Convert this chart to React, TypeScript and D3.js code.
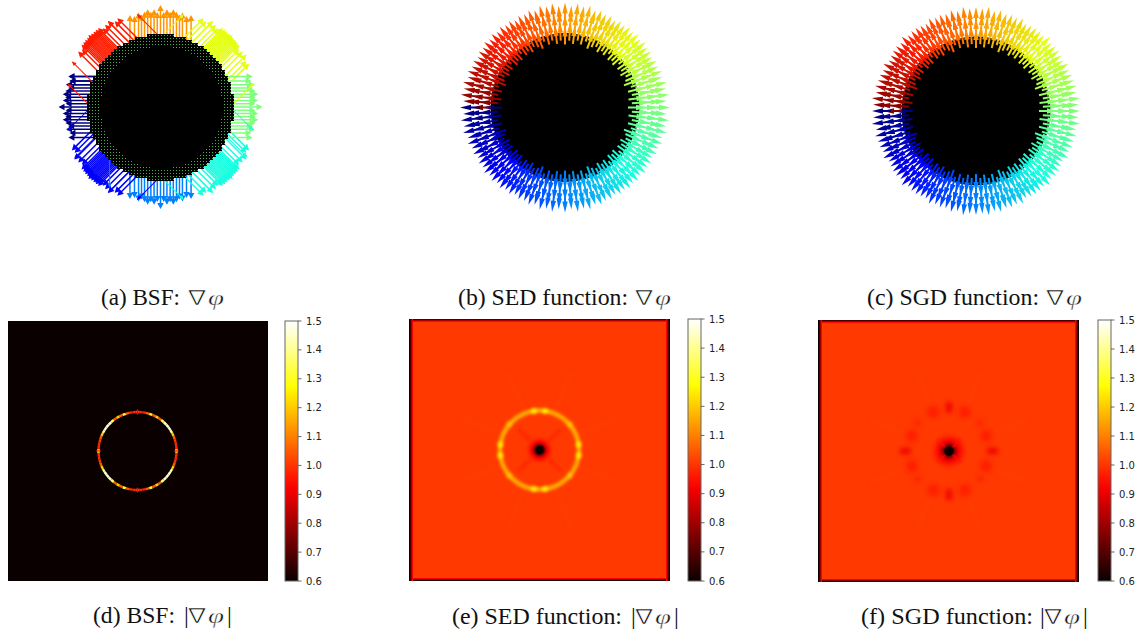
import React from "react";
import * as d3 from "d3";

// ---------- data ----------
const colorbarTicks = [0.6, 0.7, 0.8, 0.9, 1.0, 1.1, 1.2, 1.3, 1.4, 1.5];
const valueDomain = [0.6, 1.5];
const jetStops = ["#00007f", "#0000ff", "#007fff", "#17ffe0", "#7dff7a", "#e4ff12", "#ff9400", "#ff1d00", "#7f0000"];
const hotPositions = [0, 0.365, 0.746, 1];
const hotStops = ["#0b0000", "#ff0000", "#ffff00", "#ffffff"];

const captionsTop = ["(a) BSF:", "(b) SED function:", "(c) SGD function:"];
const captionsBottom = ["(d) BSF:", "(e) SED function:", "(f) SGD function:"];

// outward rays, first quadrant (degrees); mirrored to the other three
const sedRayAngles = [0, 3.6, 7.1, 10.6, 14, 17.4, 20.6, 23.7, 27, 30, 33, 36, 39, 42, 45, 48, 51, 54, 57, 60, 63, 66.3, 69.4, 72.6, 76, 79.4, 82.9, 86.4, 90];
const sedRayReach = [0, -3, 0, -2, 0, -3, -1, -3, -2, -4, -2, -3, -1, -3, -1, -3, -1, -3, -2, -4, -2, -3, -1, -3, 0, -2, 0, -3, 0];
const sgdRayReach = [-1, -2, 0, -3, -1, -2, -2, -3, -1, -4, -3, -2, -2, -3, 0, -3, -2, -2, -3, -4, -1, -3, -2, -3, -1, -3, 0, -2, -1];
const rayStagger = [0, 4, 1, 5, 2, 6, 0, 3, 5, 1, 4, 2, 6, 1, 3, 1, 6, 2, 4, 1, 5, 3, 0, 6, 2, 5, 1, 4, 0];
const arrowBaseRadii = [63, 74, 85];

const bsfRayAngles = [0, 2.6, 5.2, 7.8, 10.4, 13, 15.6, 18.2, 21.5, 25.5, 29.5, 33, 35.5, 36.7, 37.9, 39.1, 40.3, 41.5, 42.7, 43.9, 45, 46.1, 47.3, 48.5, 49.7, 50.9, 52.1, 53.3, 54.5, 57, 60.5, 64.5, 68.5, 72, 74.5, 77, 79.6, 82.2, 84.8, 87.4, 90];
const bsfReach = [0, -2, 1, -1, 2, 0, -2, 1, -1, 2, 0, -2, 1, -1, 1, 0, 1, -1, 1, 0, 2, 0, 1, -1, 1, 0, 1, -1, 1, -2, 0, 2, -1, 1, -2, 0, 2, -1, 1, -2, 0];
const bsfOutlierPositions = [178, 92, 88, 2, 182, 268, 358, 272, 160, 205, 225, 336, 116, 64, 296, 244];
const bsfOutlierDirections = [135, 135, 45, 45, -135, -135, -45, -45, 135, -135, -90, -45, 135, 45, -45, -135];

// BSF ring, value per 5-degree bin from the top going clockwise to the right side
const bsfRingValues = [1.0, 0.98, 0.98, 1.05, 1.3, 1.05, 1.2, 1.05, 1.35, 1.45, 1.47, 1.47, 1.42, 1.2, 1.05, 1.0, 0.98, 0.98, 1.2];
const bsfRingRadius = [37.8, 40.2];
const axisAngles = [0, 90, 180, 270];

const edgeSideValues = [0.6, 0.68, 0.8, 0.92];
const edgeTopValues = [0.68, 0.82, 0.94];
const edgeBottomValues = [0.62, 0.76, 0.92];
const sedHaloRadii = [0, 3.5, 5, 7, 10, 15];
const sedHaloValues = [0.6, 0.6, 0.74, 0.88, 0.96, 1.0];
const sgdHaloRadii = [0, 4, 6, 9, 13, 20];
const sgdHaloValues = [0.6, 0.6, 0.78, 0.9, 0.96, 1.0];

const sedBeadAngles = [8, -8, 82, 98, 172, 188, 262, 278, 40, 140, 220, 320];
const sedBeadValues = [1.25, 1.25, 1.25, 1.25, 1.25, 1.25, 1.25, 1.25, 1.19, 1.19, 1.19, 1.19];
const sedStreakAngles = [45, 135, 225, 315];
const faintStreakAngles = [68, 112, 248, 292, 22, 158, 202, 338];
const sgdBlobAngles = [22, 68, 112, 158, 202, 248, 292, 338, 42, 138, 222, 318];
const sgdBlobRadii = [40, 42, 42, 40, 40, 42, 42, 40, 42, 42, 42, 42];
const sgdBlobSizes = [6, 6, 6, 6, 6, 6, 6, 6, 4, 4, 4, 4];
const sgdBlobValues = [0.965, 0.965, 0.965, 0.965, 0.965, 0.965, 0.965, 0.965, 0.98, 0.98, 0.98, 0.98];

// ---------- scales ----------
const hot = d3.scaleLinear<string>().domain(hotPositions).range(hotStops).interpolate(d3.interpolateRgb).clamp(true);
const norm = d3.scaleLinear().domain(valueDomain).range([0, 1]).clamp(true);
const heat = (v: number) => hot(norm(v));
const jet = d3.scaleLinear<string>().domain(d3.range(jetStops.length).map((i) => i / (jetStops.length - 1))).range(jetStops);
const dirScale = d3.scaleLinear().domain([-180, 180]).range([0, 1]);
const wrap = (a: number) => {
  let x = a % 360;
  if (x > 180) x -= 360;
  if (x <= -180) x += 360;
  return x;
};
const rad = (a: number) => (a * Math.PI) / 180;
const mirror = (q: number[]) => {
  const out: { a: number; i: number }[] = [];
  q.forEach((a, i) => {
    out.push({ a, i });
    if (a !== 0) out.push({ a: -a, i });
    if (a !== 90) {
      out.push({ a: 180 - a, i });
      if (a !== 0) out.push({ a: a - 180, i });
    }
  });
  return out;
};

function arrowPath(len: number, shaft: number, headW: number, headL: number) {
  const p = d3.path();
  p.moveTo(0, -shaft / 2);
  p.lineTo(len - headL, -shaft / 2);
  p.lineTo(len - headL, -headW / 2);
  p.lineTo(len, 0);
  p.lineTo(len - headL, headW / 2);
  p.lineTo(len - headL, shaft / 2);
  p.lineTo(0, shaft / 2);
  p.closePath();
  return p.toString();
}

// ---------- arrow panels ----------
function SmoothField({ cx, cy, reach }: { cx: number; cy: number; reach: number[] }) {
  const rays = mirror(sedRayAngles).sort((p, q) => wrap(p.a) - wrap(q.a));
  return (
    <g transform={`translate(${cx},${cy})`}>
      <circle r={74.5} fill="#000" />
      {arrowBaseRadii.map((r0) => (
        <g key={r0}>
          {rays.map(({ a, i }, k) => {
            const w = wrap(a);
            const t = dirScale(w === 180 ? (r0 === arrowBaseRadii[1] ? 179 : -179) : w);
            const base = r0 + rayStagger[i];
            const outer = r0 === arrowBaseRadii[2];
            const len = outer ? 105 + reach[i] - base : 19;
            return (
              <path
                key={k}
                d={arrowPath(len, 2, 5.4, 11)}
                fill={jet(t)}
                transform={`rotate(${-a}) translate(${base},0)`}
              />
            );
          })}
        </g>
      ))}
    </g>
  );
}

function BsfField({ cx, cy }: { cx: number; cy: number }) {
  const rays = mirror(bsfRayAngles);
  const cell = 3;
  const grid = d3.range(-75, 76, cell);
  let blackCells = "";
  let greenDots = "";
  grid.forEach((x) =>
    grid.forEach((y) => {
      const r = Math.hypot(x, y);
      if (r < 73.5) {
        blackCells += `M${x - 1.5} ${y - 1.5}h3v3h-3z`;
        if (r > 61) greenDots += `M${x} ${y}h1v1h-1z`;
      }
    })
  );
  const arrows: { a: number; d: number; len: number; k: string }[] = [];
  rays.forEach(({ a, i }, k) => {
    const q = a / 45;
    const near = Math.round(q);
    const frac = q - near;
    const dirs = [near];
    // transition zones carry both neighbouring directions
    if (Math.abs(frac) > 0.36) dirs.unshift(near + Math.sign(frac));
    dirs.forEach((n, j) => {
      const dir = wrap(n * 45);
      const d = dir === 180 || (dir === 135 && a > 152) ? -180 : dir;
      const spike = a % 90 === 0;
      const diagonal = Math.abs(d) % 90 === 45;
      arrows.push({ a, d, len: spike ? 31 : (diagonal ? 29 : 26) + bsfReach[i], k: `${k}-${j}` });
    });
  });
  return (
    <g transform={`translate(${cx},${cy})`}>
      {arrows.map(({ a, d, len, k }) => (
        <path
          key={k}
          d={arrowPath(len, 1.5, 6.5, 6)}
          fill={jet(dirScale(d))}
          transform={`translate(${71 * Math.cos(rad(a))},${-71 * Math.sin(rad(a))}) rotate(${-d})`}
        />
      ))}
      {bsfOutlierPositions.map((p, k) => (
        <path
          key={k}
          d={arrowPath(30, 1, 4, 5)}
          fill={jet(dirScale(bsfOutlierDirections[k]))}
          transform={`translate(${72 * Math.cos(rad(p))},${-72 * Math.sin(rad(p))}) rotate(${-bsfOutlierDirections[k]})`}
        />
      ))}
      <path d={blackCells} fill="#000" shapeRendering="crispEdges" />
      <path d={greenDots} fill="#46b046" shapeRendering="crispEdges" />
    </g>
  );
}

// ---------- heat panels ----------
function Colorbar({ x, y0, y1 }: { x: number; y0: number; y1: number }) {
  const y = d3.scaleLinear().domain(valueDomain).range([y1, y0]);
  return (
    <g>
      <rect x={x} y={y0} width={13} height={y1 - y0} fill="url(#hotBar)" stroke="#666" strokeWidth={1} />
      {colorbarTicks.map((t) => (
        <g key={t} transform={`translate(${x + 13},${y(t)})`}>
          <line x2={3.5} stroke="#444" strokeWidth={0.8} />
          <text x={8} dy="0.36em" fontSize={10} fontFamily="DejaVu Sans" fill="#222">
            {t.toFixed(1)}
          </text>
        </g>
      ))}
    </g>
  );
}

function EdgeBox({ x, y, w, h }: { x: number; y: number; w: number; h: number }) {
  const rev = <T,>(a: T[]) => [...a].reverse();
  return (
    <g shapeRendering="crispEdges">
      <rect x={x} y={y} width={w} height={h} fill={heat(1.005)} />
      {rev(edgeTopValues.map((v, i) => ({ v, i }))).map(({ v, i }) => (
        <rect key={`t${i}`} x={x} y={y + i} width={w} height={1} fill={heat(v)} />
      ))}
      {rev(edgeBottomValues.map((v, i) => ({ v, i }))).map(({ v, i }) => (
        <rect key={`b${i}`} x={x} y={y + h - 1 - i} width={w} height={1} fill={heat(v)} />
      ))}
      {rev(edgeSideValues.map((v, i) => ({ v, i }))).map(({ v, i }) => (
        <g key={`s${i}`}>
          <rect x={x + i} y={y} width={1} height={h} fill={heat(v)} />
          <rect x={x + w - 1 - i} y={y} width={1} height={h} fill={heat(v)} />
        </g>
      ))}
    </g>
  );
}

const polar = (cx: number, cy: number, r: number, a: number) => [cx + r * Math.cos(rad(a)), cy - r * Math.sin(rad(a))];

function SedDetail({ cx, cy }: { cx: number; cy: number }) {
  const R = 39.5;
  return (
    <g>
      <g filter="url(#blurS)">
        {faintStreakAngles.map((a) => {
          const [x0, y0] = polar(cx, cy, 44, a);
          const [x1, y1] = polar(cx, cy, 85, a);
          return <line key={a} x1={x0} y1={y0} x2={x1} y2={y1} stroke={heat(1.015)} strokeWidth={1.5} />;
        })}
      </g>
      <g filter="url(#blurT)">
        {sedStreakAngles.map((a) => {
          const [x0, y0] = polar(cx, cy, 5, a);
          const [x1, y1] = polar(cx, cy, 30, a);
          return <line key={a} x1={x0} y1={y0} x2={x1} y2={y1} stroke={heat(0.97)} strokeWidth={2} />;
        })}
      </g>
      <circle cx={cx} cy={cy} r={15} fill="url(#sedHalo)" />
      <g filter="url(#blurT)">
        <circle cx={cx} cy={cy} r={R} fill="none" stroke={heat(1.16)} strokeWidth={4.5} />
        {sedBeadAngles.map((a, i) => {
          const [x, y] = polar(cx, cy, R, a);
          return <circle key={a} cx={x} cy={y} r={3} fill={heat(sedBeadValues[i])} />;
        })}
      </g>
      <circle cx={cx} cy={cy} r={3.8} fill={heat(0.6)} />
    </g>
  );
}

function SgdDetail({ cx, cy }: { cx: number; cy: number }) {
  return (
    <g>
      <g filter="url(#blurS)">
        {faintStreakAngles.map((a) => {
          const [x0, y0] = polar(cx, cy, 48, a);
          const [x1, y1] = polar(cx, cy, 85, a);
          return <line key={a} x1={x0} y1={y0} x2={x1} y2={y1} stroke={heat(1.015)} strokeWidth={1.5} />;
        })}
      </g>
      <circle cx={cx} cy={cy} r={20} fill="url(#sgdHalo)" />
      <g filter="url(#blurS)">
        {axisAngles.map((a) => {
          const [x0, y0] = polar(cx, cy, 38, a);
          const [x1, y1] = polar(cx, cy, 49, a);
          return <line key={a} x1={x0} y1={y0} x2={x1} y2={y1} stroke={heat(0.91)} strokeWidth={6} />;
        })}
        {sgdBlobAngles.map((a, i) => {
          const [x, y] = polar(cx, cy, sgdBlobRadii[i], a);
          return <circle key={a} cx={x} cy={y} r={sgdBlobSizes[i]} fill={heat(sgdBlobValues[i])} />;
        })}
      </g>
      <g filter="url(#blurM)">
        {sedStreakAngles.map((a) => {
          const [x0, y0] = polar(cx, cy, 5, a);
          const [x1, y1] = polar(cx, cy, 16, a);
          return <line key={a} x1={x0} y1={y0} x2={x1} y2={y1} stroke={heat(0.95)} strokeWidth={1.5} />;
        })}
      </g>
      <rect x={cx - 3.5} y={cy - 3.5} width={7} height={7} fill={heat(0.6)} />
    </g>
  );
}

function BsfRing({ cx, cy }: { cx: number; cy: number }) {
  const arc = d3.arc();
  const bins = bsfRingValues.map((v, i) => ({ v, a: i * 5 }));
  const signs = [(a: number) => a, (a: number) => 180 - a, (a: number) => 180 + a, (a: number) => -a];
  return (
    <g transform={`translate(${cx},${cy})`}>
      {signs.map((f, s) =>
        bins.map(({ v, a }) => {
          const p = f(a - 2.5);
          const q = f(a + 2.5);
          return (
            <path
              key={`${s}-${a}`}
              d={
                arc({
                  innerRadius: bsfRingRadius[0],
                  outerRadius: bsfRingRadius[1],
                  startAngle: rad(Math.min(p, q)),
                  endAngle: rad(Math.max(p, q)),
                }) as string
              }
              fill={heat(v)}
            />
          );
        })
      )}
      {axisAngles.map((a) => {
        const [x0, y0] = polar(0, 0, 36.5, a);
        const [x1, y1] = polar(0, 0, 41.5, a);
        return <line key={a} x1={x0} y1={y0} x2={x1} y2={y1} stroke={heat(0.92)} strokeWidth={1} />;
      })}
    </g>
  );
}

function Caption({ x, y, label, width, nabla, abs }: { x: number; y: number; label: string; width: number; nabla: number; abs: boolean }) {
  const serif = "Liberation Serif";
  return (
    <g fill="#111">
      <text x={x} y={y} fontFamily={serif} fontSize={23} textLength={width} lengthAdjust="spacingAndGlyphs">
        {label}
      </text>
      {abs && (
        <text x={nabla - 4} y={y} fontFamily={serif} fontSize={24}>
          |
        </text>
      )}
      <text
        x={nabla}
        y={y}
        fontFamily="DejaVu Sans"
        fontSize={21}
        textLength={18}
        lengthAdjust="spacingAndGlyphs"
        stroke="#fff"
        strokeWidth={0.7}
        paintOrder="fill"
      >
        ∇
      </text>
      <text
        x={nabla + 20}
        y={y}
        fontFamily={serif}
        fontStyle="italic"
        fontSize={22}
        textLength={16}
        lengthAdjust="spacingAndGlyphs"
        stroke="#fff"
        strokeWidth={0.4}
        paintOrder="fill"
      >
        φ
      </text>
      {abs && (
        <text x={nabla + 39} y={y} fontFamily={serif} fontSize={24}>
          |
        </text>
      )}
    </g>
  );
}

export default function App() {
  const barStops = d3.range(0, 1.0001, 0.05);
  const radial = (id: string, radii: number[], vals: number[]) => {
    const max = radii[radii.length - 1];
    return (
      <radialGradient id={id}>
        {radii.map((r, i) => (
          <stop key={r} offset={r / max} stopColor={heat(vals[i])} stopOpacity={i === radii.length - 1 ? 0 : 1} />
        ))}
      </radialGradient>
    );
  };
  return (
    <svg width={1140} height={636} style={{ position: "absolute", left: 0, top: 0, display: "block", background: "#fff" }}>
      <defs>
        <linearGradient id="hotBar" x1="0" y1="1" x2="0" y2="0">
          {barStops.map((s) => (
            <stop key={s} offset={s} stopColor={hot(s)} />
          ))}
        </linearGradient>
        {radial("sedHalo", sedHaloRadii, sedHaloValues)}
        {radial("sgdHalo", sgdHaloRadii, sgdHaloValues)}
        <filter id="blurS" x="-30%" y="-30%" width="160%" height="160%">
          <feGaussianBlur stdDeviation={2.5} />
        </filter>
        <filter id="blurM" x="-30%" y="-30%" width="160%" height="160%">
          <feGaussianBlur stdDeviation={1} />
        </filter>
        <filter id="blurT" x="-30%" y="-30%" width="160%" height="160%">
          <feGaussianBlur stdDeviation={1.4} />
        </filter>
      </defs>

      <BsfField cx={160.5} cy={107} />
      <SmoothField cx={565} cy={107.5} reach={sedRayReach} />
      <SmoothField cx={976} cy={111} reach={sgdRayReach} />

      <Caption x={101} y={305} label={captionsTop[0]} width={79} nabla={188} abs={false} />
      <Caption x={458} y={305} label={captionsTop[1]} width={170} nabla={635} abs={false} />
      <Caption x={867} y={305} label={captionsTop[2]} width={172} nabla={1046} abs={false} />

      <rect x={8} y={321} width={260} height={260} fill={hot(0)} />
      <BsfRing cx={137.5} cy={451} />
      <Colorbar x={285} y0={321} y1={581} />

      <EdgeBox x={409} y={319} w={261} h={262} />
      <SedDetail cx={539.5} cy={450} />
      <Colorbar x={688} y0={319} y1={581} />

      <EdgeBox x={818} y={320} w={261} h={262} />
      <SgdDetail cx={949} cy={451} />
      <Colorbar x={1098} y0={320} y1={581} />

      <Caption x={93} y={623} label={captionsBottom[0]} width={82} nabla={188} abs={true} />
      <Caption x={452} y={624} label={captionsBottom[1]} width={170} nabla={635} abs={true} />
      <Caption x={861} y={624} label={captionsBottom[2]} width={172} nabla={1044} abs={true} />
    </svg>
  );
}
